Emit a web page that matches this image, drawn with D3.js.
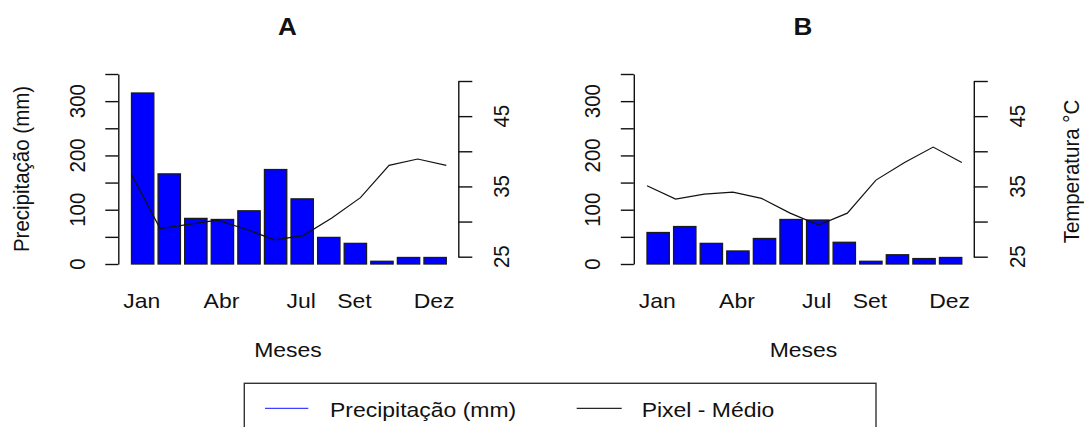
<!DOCTYPE html>
<html><head><meta charset="utf-8">
<script src="https://cdn.jsdelivr.net/npm/d3@7"></script>
<style>
html,body{margin:0;padding:0;background:#fff;}
svg{display:block;}
text{font-family:"Liberation Sans",Arial,Helvetica,sans-serif;fill:#111;}
</style></head>
<body>
<svg id="chart" width="1084" height="427"></svg>
<script>
// ---- data ----
const months = ["Jan","Fev","Mar","Abr","Mai","Jun","Jul","Ago","Set","Out","Nov","Dez"];
const shownMonths = ["Jan","Abr","Jul","Set","Dez"];
const precipA = [315, 166, 84, 82, 98, 174, 120, 49, 38, 5, 12, 12];
const tempA   = [36.7, 29.0, 29.6, 30.2, 28.9, 27.4, 28.0, 30.5, 33.4, 38.0, 38.9, 38.0];
const precipB = [58, 69, 38, 24, 47, 82, 81, 40, 5, 17, 10, 12];
const tempB   = [35.1, 33.2, 33.9, 34.2, 33.3, 31.2, 29.5, 31.2, 35.9, 38.4, 40.6, 38.4];
const precipTicks = [0, 50, 100, 150, 200, 250, 300, 350];
const precipLabels = [0, 100, 200, 300];
const tempTicks = [25, 30, 35, 40, 45, 50];
const tempLabels = [25, 35, 45];
const panelTitles = ["A", "B"];
const legendLabels = ["Precipitação (mm)", "Pixel - Médio"];
const legendColors = ["#0000ff", "#000000"];

// ---- layout ----
const SX = 1.12;      // horizontal stretch of the original picture
const FS = 20.5;
const svg = d3.select("#chart");

function txt(g, s, x, y, opts) {
  opts = opts || {};
  const sx = opts.sx || SX;
  const rot = opts.rotate ? ` rotate(${opts.rotate})` : "";
  return g.append("text")
    .attr("transform", `translate(${x},${y}) scale(${sx},1)${rot}`)
    .attr("text-anchor", opts.anchor || "middle")
    .attr("font-size", opts.size || FS)
    .attr("font-weight", opts.weight || "normal")
    .text(s);
}

const yP = d3.scaleLinear().domain([0, 350]).range([264, 74]);
const yT = d3.scaleLinear().domain([25, 50]).range([256.7, 81]);

function panel(off, precip, temp, title, showLeftTitle, showRightTitle) {
  const g = svg.append("g");
  const xB = d3.scaleBand().domain(months).range([131.5 + off, 446.3 + off]).paddingInner(0.16).paddingOuter(0);
  const xL = d3.scalePoint().domain(months).range([131.5 + off, 446.3 + off]);

  // bars
  g.selectAll("rect.bar").data(months).enter().append("rect")
    .attr("x", d => xB(d))
    .attr("width", xB.bandwidth())
    .attr("y", (d, i) => yP(precip[i]))
    .attr("height", (d, i) => yP(0) - yP(precip[i]))
    .attr("fill", "#0000ff")
    .attr("stroke", "#1a1a1a")
    .attr("stroke-width", 1.3);

  // temperature line
  const line = d3.line().x((d, i) => xL(months[i])).y(d => yT(d));
  g.append("path").datum(temp).attr("d", line)
    .attr("fill", "none").attr("stroke", "#111").attr("stroke-width", 1.2);

  // left axis
  const ax = g.append("g").attr("transform", `translate(${118.3 + off},0)`)
    .call(d3.axisLeft(yP).tickValues(precipTicks).tickSize(13).tickSizeOuter(0).tickFormat(""));
  ax.selectAll("path,line").attr("stroke", "#111").attr("stroke-width", 1.4);
  precipLabels.forEach(v => txt(g, String(v), 84.9 + off, yP(v), {rotate: -90}));

  // right axis
  const ar = g.append("g").attr("transform", `translate(${458.3 + off},0)`)
    .call(d3.axisRight(yT).tickValues(tempTicks).tickSize(14).tickSizeOuter(0).tickFormat(""));
  ar.selectAll("path,line").attr("stroke", "#111").attr("stroke-width", 1.4);
  tempLabels.forEach(v => txt(g, String(v), 509.2 + off, yT(v), {rotate: -90}));

  // month labels
  shownMonths.forEach(m => txt(g, m, xB(m) + xB.bandwidth() / 2 - 1, 308.3));
  txt(g, "Meses", 288 + off, 357.3);

  // title
  txt(g, title, 287.5 + off, 35, {size: 23.3, weight: "bold"});

  if (showLeftTitle) txt(g, "Precipitação (mm)", 28.5 + off, 169, {rotate: -90});
  if (showRightTitle) txt(g, "Temperatura °C", 1078.8, 171.5, {rotate: -90, sx: 1.05});
}

panel(0, precipA, tempA, panelTitles[0], true, false);
panel(515.5, precipB, tempB, panelTitles[1], false, true);

// legend
const lg = svg.append("g");
lg.append("rect").attr("x", 244.3).attr("y", 383.3).attr("width", 631.7).attr("height", 80)
  .attr("fill", "none").attr("stroke", "#333").attr("stroke-width", 1.4);
const legX = [[265, 308.3, 330], [576.7, 621.7, 641.7]];
legendLabels.forEach((l, i) => {
  lg.append("line").attr("x1", legX[i][0]).attr("x2", legX[i][1]).attr("y1", 408.3).attr("y2", 408.3)
    .attr("stroke", legendColors[i]).attr("stroke-width", 1.3).attr("stroke-opacity", i === 0 ? 0.75 : 0.85);
  txt(lg, l, legX[i][2], 416.7, {anchor: "start"});
});
</script>
</body></html>
